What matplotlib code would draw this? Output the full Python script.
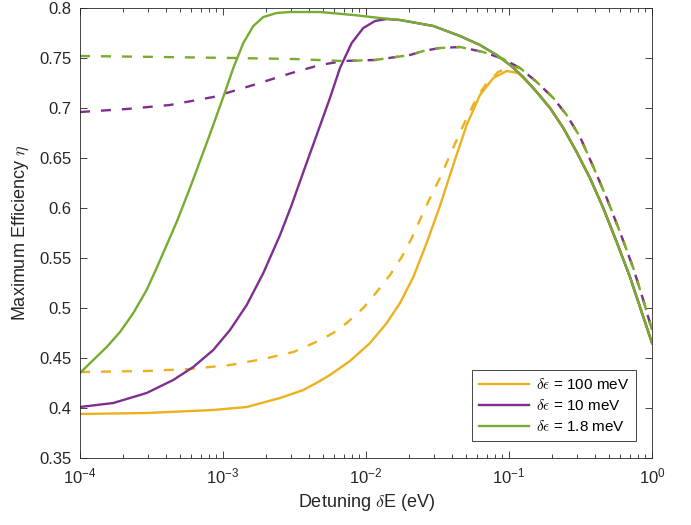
import numpy as np
import matplotlib
matplotlib.use('Agg')
import matplotlib.pyplot as plt
from matplotlib.ticker import FixedLocator, LogLocator, FormatStrFormatter

# detuning values as log10(dE / eV), efficiencies
green_solid_lx = [-4.0, -3.907, -3.813, -3.72, -3.627, -3.534, -3.464, -3.394, -3.324,
                  -3.231, -3.184, -3.091, -2.998, -2.928, -2.858, -2.788, -2.718, -2.625,
                  -2.531, -2.322, -2.089, -1.902, -1.762, -1.529, -1.343, -1.203, -1.086,
                  -0.993, -0.9, -0.806, -0.713, -0.62, -0.527, -0.434, -0.341, -0.247,
                  -0.154, -0.084, 0.0]
green_solid_y = [0.435, 0.448, 0.461, 0.476, 0.495, 0.518, 0.540, 0.563, 0.586,
                 0.620, 0.638, 0.674, 0.711, 0.740, 0.765, 0.782, 0.791, 0.795,
                 0.796, 0.796, 0.793, 0.790, 0.788, 0.782, 0.772, 0.763, 0.753,
                 0.743, 0.731, 0.716, 0.700, 0.680, 0.656, 0.630, 0.600, 0.566,
                 0.531, 0.501, 0.465]

green_dash_lx = [-4.0, -3.44, -2.928, -2.508, -2.159, -1.937, -1.692, -1.6, -1.483,
                 -1.343, -1.18, -1.04, -0.923, -0.806, -0.69, -0.597, -0.503, -0.41,
                 -0.317, -0.224, -0.131, -0.061, 0.0]
green_dash_y = [0.752, 0.751, 0.750, 0.749, 0.747, 0.748, 0.753, 0.757, 0.760,
                0.761, 0.756, 0.749, 0.740, 0.726, 0.710, 0.693, 0.671, 0.641,
                0.610, 0.576, 0.540, 0.508, 0.478]

purple_solid_lx = [-4.0, -3.767, -3.534, -3.348, -3.208, -3.068, -2.951, -2.834, -2.718,
                   -2.601, -2.52, -2.438, -2.345, -2.252, -2.182, -2.1, -2.019, -1.937,
                   -1.855]
purple_solid_y = [0.401, 0.405, 0.415, 0.428, 0.441, 0.458, 0.478, 0.503, 0.535,
                  0.573, 0.603, 0.636, 0.673, 0.710, 0.740, 0.765, 0.780, 0.787,
                  0.789]

purple_dash_lx = [-4.0, -3.673, -3.371, -3.068, -2.811, -2.52, -2.322, -2.159]
purple_dash_y = [0.696, 0.699, 0.703, 0.711, 0.722, 0.735, 0.743, 0.747]

yellow_solid_lx = [-4.0, -3.534, -3.068, -2.834, -2.601, -2.438, -2.322, -2.252, -2.112,
                   -1.972, -1.855, -1.762, -1.669, -1.576, -1.483, -1.39, -1.296, -1.203,
                   -1.11, -1.016, -0.935, -0.865]
yellow_solid_y = [0.394, 0.395, 0.398, 0.401, 0.410, 0.418, 0.427, 0.433, 0.447,
                  0.465, 0.485, 0.505, 0.531, 0.565, 0.602, 0.643, 0.683, 0.713,
                  0.730, 0.737, 0.735, 0.725]

yellow_dash_lx = [-4.0, -3.534, -3.231, -2.951, -2.718, -2.508, -2.334, -2.229, -2.135,
                  -2.019, -1.914, -1.832, -1.75, -1.68, -1.611, -1.552, -1.483, -1.366,
                  -1.296, -1.226, -1.156, -1.075, -0.993, -0.923]
yellow_dash_y = [0.436, 0.437, 0.439, 0.443, 0.449, 0.456, 0.467, 0.475, 0.485,
                 0.500, 0.518, 0.533, 0.551, 0.570, 0.592, 0.610, 0.630, 0.668,
                 0.690, 0.710, 0.725, 0.736, 0.741, 0.740]

labels = [r'$\delta\epsilon$ = 100 meV', r'$\delta\epsilon$ = 10 meV', r'$\delta\epsilon$ = 1.8 meV']
colors = ['#EDB120', '#7E2F8E', '#77AC30']


def with_tail(lx, y, tail_lx, tail_y):
    # curves join the 1.8 meV curve at high detuning
    lx = list(lx)
    y = list(y)
    for a, b in zip(tail_lx, tail_y):
        if a > lx[-1]:
            lx.append(a)
            y.append(b)
    return 10 ** np.array(lx), np.array(y)


plt.rcParams['font.family'] = ['Liberation Sans', 'DejaVu Sans']
plt.rcParams['mathtext.fontset'] = 'cm'

fig = plt.figure(figsize=(6.91, 5.25), dpi=100)
ax = fig.add_axes([80 / 691, 67 / 525, 572 / 691, 450 / 525])

lw = 1.7
dash = (0, (7.2 / lw, 7.9 / lw))

solid_sets = [(yellow_solid_lx, yellow_solid_y), (purple_solid_lx, purple_solid_y), (green_solid_lx, green_solid_y)]
dash_sets = [(yellow_dash_lx, yellow_dash_y), (purple_dash_lx, purple_dash_y), (green_dash_lx, green_dash_y)]

for (slx, sy), (dlx, dy), c, lab in zip(solid_sets, dash_sets, colors, labels):
    x, y = with_tail(slx, sy, green_solid_lx, green_solid_y)
    ax.plot(x, y, color=c, lw=lw, label=lab, solid_joinstyle='round')
    x, y = with_tail(dlx, dy, green_dash_lx, green_dash_y)
    ax.plot(x, y, color=c, lw=lw, linestyle=dash)

ax.set_xscale('log')
ax.set_xlim(1e-4, 1)
ax.set_ylim(0.35, 0.8)
ax.yaxis.set_major_locator(FixedLocator(np.arange(0.35, 0.801, 0.05)))
ax.yaxis.set_major_formatter(FormatStrFormatter('%g'))
ax.xaxis.set_major_locator(LogLocator(base=10, numticks=10))
ax.xaxis.set_minor_locator(LogLocator(base=10, subs=np.arange(2, 10), numticks=20))

axcol = '#262626'
for s in ax.spines.values():
    s.set_color(axcol)
    s.set_linewidth(0.6)
ax.tick_params(which='both', direction='in', top=True, right=True, colors=axcol,
               labelsize=12, width=0.6)
ax.tick_params(which='major', length=5, pad=6)
ax.tick_params(which='minor', length=3)

ax.set_xlabel(r'Detuning $\delta$E (eV)', fontsize=13, color=axcol, labelpad=4)
ax.set_ylabel(r'Maximum Efficiency $\eta$', fontsize=13, color=axcol, labelpad=6)

leg = ax.legend(loc='lower right', bbox_to_anchor=(0.985, 0.02), fontsize=11,
                handlelength=3.3, fancybox=False, framealpha=1, edgecolor=axcol,
                borderpad=0.45, labelspacing=0.4, handletextpad=0.4)
leg.get_frame().set_linewidth(0.6)

fig.savefig('out.png', dpi=100)
